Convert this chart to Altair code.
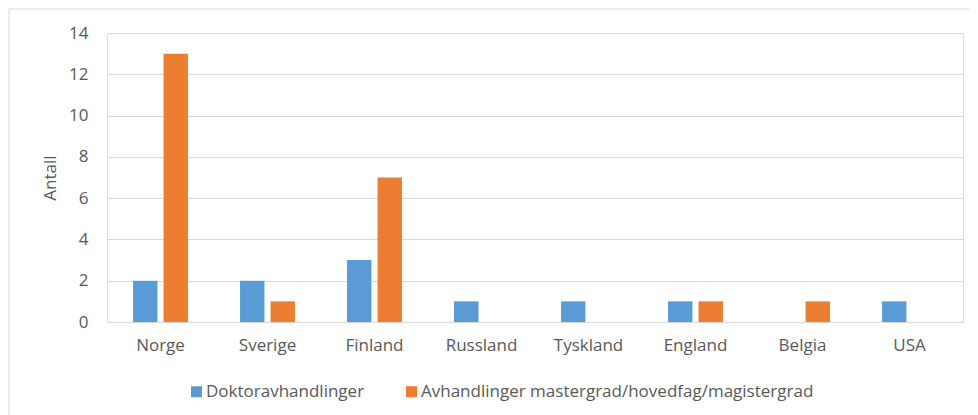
import altair as alt
import pandas as pd

countries = ["Norge", "Sverige", "Finland", "Russland", "Tyskland", "England", "Belgia", "USA"]
series = ["Doktoravhandlinger", "Avhandlinger mastergrad/hovedfag/magistergrad"]
doktor = [2, 2, 3, 1, 1, 1, 0, 1]
master = [13, 1, 7, 0, 0, 1, 1, 0]
colors = ["#5B9BD5", "#ED7D31"]

rows = []
for i, c in enumerate(countries):
    rows.append({"Land": c, "Serie": series[0], "Antall": doktor[i]})
    rows.append({"Land": c, "Serie": series[1], "Antall": master[i]})
df = pd.DataFrame(rows)

FONT = "Open Sans"
FS = 17
LABEL = "#595959"
GRID = "#D9D9D9"

bars = alt.Chart(df).transform_filter("datum.Antall > 0").mark_bar().encode(
    x=alt.X("Land:N", sort=countries, title=None,
            scale=alt.Scale(paddingInner=0, paddingOuter=0),
            axis=alt.Axis(labelAngle=0, labelPadding=15, ticks=False, domainColor=GRID,
                          labelFontSize=FS, labelColor=LABEL, labelFont=FONT, grid=False)),
    xOffset=alt.XOffset("Serie:N", sort=series,
                        scale=alt.Scale(paddingInner=0.2, paddingOuter=0.854)),
    y=alt.Y("Antall:Q", title="Antall",
            scale=alt.Scale(domain=[0, 14], nice=False),
            axis=alt.Axis(values=[0, 2, 4, 6, 8, 10, 12, 14], domain=False, ticks=False,
                          gridColor=GRID, gridWidth=1, labelPadding=19,
                          labelFontSize=FS, labelColor=LABEL, labelFont=FONT,
                          titleFontSize=FS, titleColor=LABEL, titleFont=FONT,
                          titleFontWeight="normal", titleX=-48)),
    color=alt.Color("Serie:N", sort=series, title=None,
                    scale=alt.Scale(domain=series, range=colors),
                    legend=alt.Legend(orient="none", direction="horizontal",
                                      legendX=81, legendY=350, symbolType="square",
                                      symbolSize=121, symbolStrokeWidth=0,
                                      labelFontSize=FS, labelColor=LABEL, labelFont=FONT,
                                      labelOffset=1, columnPadding=38, labelLimit=600)),
)

border = alt.Chart(pd.DataFrame({"a": [0]})).mark_rect(
    fill=None, stroke=GRID, strokeWidth=1
).encode(x=alt.value(-98), x2=alt.value(1200), y=alt.value(-24), y2=alt.value(600))

chart = alt.layer(bars, border).properties(
    width=856, height=289,
    autosize=alt.AutoSizeParams(type="none"),
    padding={"left": 99, "top": 25, "right": 7, "bottom": 93},
).configure_view(stroke=None).configure(background="white")

chart.save("out.html", embed_options={"renderer": "svg", "actions": False})
